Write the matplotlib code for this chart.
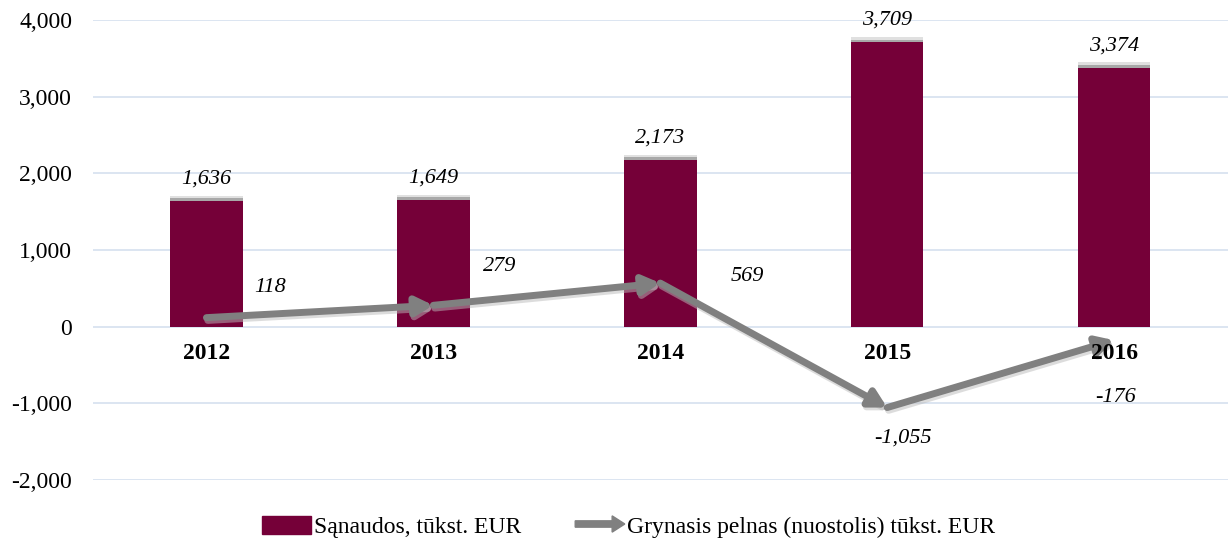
import matplotlib.pyplot as plt
import matplotlib.patheffects as pe
from matplotlib.patches import FancyArrow, Patch
from matplotlib.legend_handler import HandlerPatch
from matplotlib.ticker import FuncFormatter

years = ["2012", "2013", "2014", "2015", "2016"]
sanaudos = [1636, 1649, 2173, 3709, 3374]
pelnas = [118, 279, 569, -1055, -176]

bar_color = "#750038"
line_color = "#808080"

plt.rcParams["font.family"] = ["Liberation Serif", "DejaVu Serif"]

fig = plt.figure(figsize=(12.3, 5.42), dpi=100)
ax = fig.add_axes([0.0756, 0.1144, 0.9224, 0.8486])

x = list(range(len(years)))
shadow = [pe.SimplePatchShadow(offset=(0, 4), shadow_rgbFace="#999999", alpha=0.3),
          pe.SimplePatchShadow(offset=(0, 2), shadow_rgbFace="#555555", alpha=0.4),
          pe.Normal()]
bars = ax.bar(x, sanaudos, width=0.32, color=bar_color, zorder=3, path_effects=shadow)

for xi, v in zip(x, sanaudos):
    ax.annotate(f"{v:,}", (xi, v), xytext=(0, 9), textcoords="offset points",
                ha="center", va="bottom", fontsize=16, style="italic", zorder=5)

# line made of arrows between points
for i in range(len(x) - 1):
    ax.annotate("", xy=(x[i + 1], pelnas[i + 1]), xytext=(x[i], pelnas[i]),
                arrowprops=dict(arrowstyle="-|>,head_length=1.0,head_width=0.55", color=line_color,
                                lw=5, shrinkA=0, shrinkB=0, capstyle="round",
                                path_effects=[pe.SimpleLineShadow(offset=(1, -2), shadow_color="#bbbbbb", alpha=0.5),
                                              pe.Normal()]),
                zorder=4)

offsets = [(46, 22), (48, 28), (63, 5), (11, -22), (1, -41)]
for xi, v, off in zip(x, pelnas, offsets):
    ax.annotate(f"{v:,}", (xi, v), xytext=off, textcoords="offset points",
                ha="center", va="center", fontsize=16, style="italic", zorder=5)

for xi, y in zip(x, years):
    ax.annotate(y, (xi, 0), xytext=(0, -19), textcoords="offset points",
                ha="center", va="center", fontsize=17, fontweight="bold", zorder=6)

ax.set_xlim(-0.5, len(years) - 0.5)
ax.set_ylim(-2000, 4000)
ax.set_yticks(range(-2000, 4001, 1000))
ax.yaxis.set_major_formatter(FuncFormatter(lambda v, p: f"{int(v):,}"))
ax.set_xticks([])
ax.grid(axis="y", color="#d6e0ef", lw=1.2, zorder=0)
ax.tick_params(axis="y", length=0, labelsize=17, pad=15)
for s in ax.spines.values():
    s.set_visible(False)


def make_arrow(legend, orig_handle, xdescent, ydescent, width, height, fontsize):
    return FancyArrow(0, height / 2, width, 0, width=height * 0.35, head_width=height * 0.9,
                      head_length=height * 0.7, length_includes_head=True, color=line_color)


h_bar = Patch(color=bar_color, label="Sąnaudos, tūkst. EUR")
h_arrow = Patch(color=line_color, label="Grynasis pelnas (nuostolis) tūkst. EUR")
ax.legend(handles=[h_bar, h_arrow], loc="center", bbox_to_anchor=(0.472, -0.102),
          ncol=2, frameon=False, fontsize=17, handlelength=2.1, handleheight=0.8,
          columnspacing=2.3, handletextpad=0.1, borderaxespad=0,
          handler_map={h_arrow: HandlerPatch(patch_func=make_arrow)})

fig.savefig("out.png", dpi=100)
